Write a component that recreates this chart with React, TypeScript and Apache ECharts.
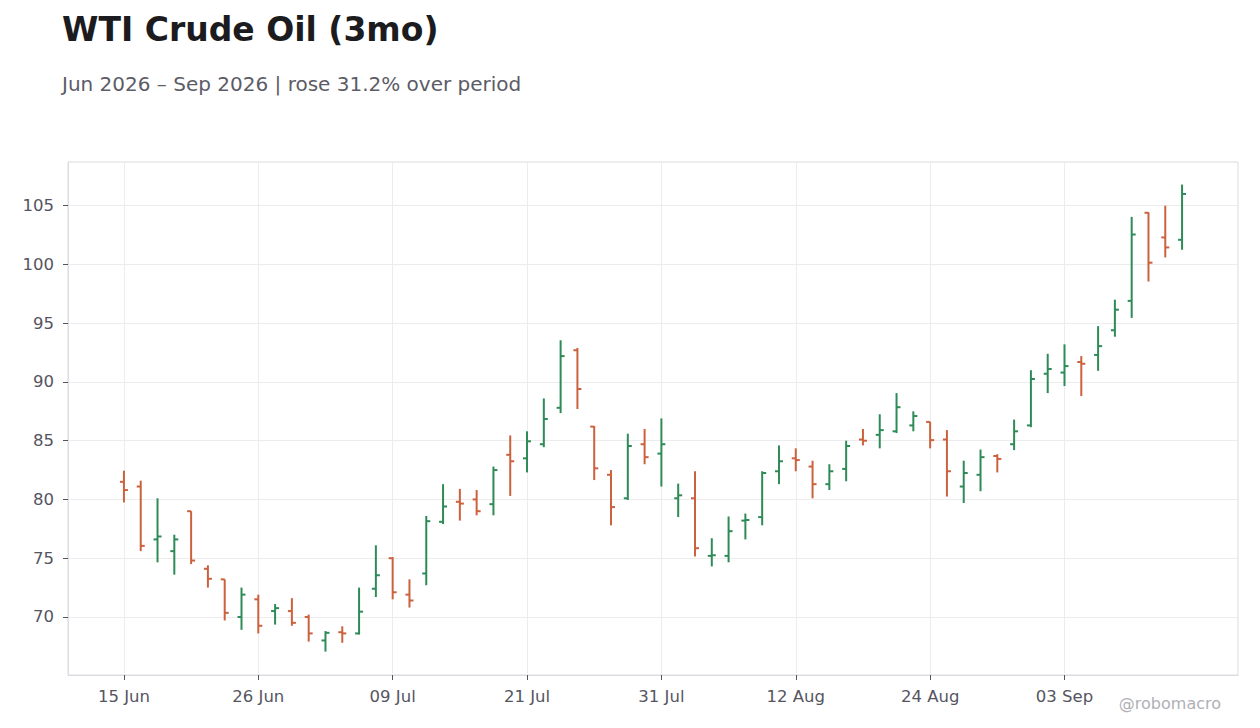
import * as echarts from "echarts"
import { useEffect, useRef } from "react"

// Trading days, Jun 15 – Sep 15 2026 (US holidays skipped)
const dates = [
  "15 Jun", "16 Jun", "17 Jun", "18 Jun", "22 Jun", "23 Jun", "24 Jun", "25 Jun", "26 Jun", "29 Jun", "30 Jun",
  "01 Jul", "02 Jul", "06 Jul", "07 Jul", "08 Jul", "09 Jul", "10 Jul", "13 Jul", "14 Jul", "15 Jul", "16 Jul",
  "17 Jul", "20 Jul", "21 Jul", "22 Jul", "23 Jul", "24 Jul", "27 Jul", "28 Jul", "29 Jul", "30 Jul", "31 Jul",
  "03 Aug", "04 Aug", "05 Aug", "06 Aug", "07 Aug", "10 Aug", "11 Aug", "12 Aug", "13 Aug", "14 Aug", "17 Aug",
  "18 Aug", "19 Aug", "20 Aug", "21 Aug", "24 Aug", "25 Aug", "26 Aug", "27 Aug", "28 Aug", "31 Aug",
  "01 Sep", "02 Sep", "03 Sep", "04 Sep", "08 Sep", "09 Sep", "10 Sep", "11 Sep", "14 Sep", "15 Sep",
]

const opens = [
  81.5, 81.1, 76.6, 75.6, 79.0, 74.1, 73.2, 70.0, 71.5, 70.5, 70.5, 70.0, 68.0, 68.7, 68.6, 72.4,
  75.0, 71.9, 73.7, 78.1, 79.8, 80.0, 79.6, 83.8, 83.5, 84.7, 87.8, 92.7, 86.2, 82.1, 80.1, 84.7,
  83.9, 80.1, 80.1, 75.2, 75.2, 78.2, 78.5, 82.4, 83.5, 82.8, 81.3, 82.6, 85.1, 85.5, 85.8, 86.3,
  86.6, 85.1, 81.1, 82.1, 83.7, 84.7, 86.3, 90.7, 90.8, 91.7, 92.3, 94.4, 96.9, 104.4, 102.3, 102.1,
]
const highs = [
  82.45, 81.6, 80.1, 77.0, 79.0, 74.4, 73.2, 72.5, 71.9, 71.1, 71.6, 70.2, 68.8, 69.2, 72.5, 76.1,
  75.1, 73.2, 78.6, 81.3, 80.9, 80.8, 82.8, 85.45, 85.8, 88.6, 93.55, 92.9, 86.25, 82.5, 85.6, 86.0,
  86.9, 81.35, 82.4, 76.7, 78.55, 78.8, 82.4, 84.6, 84.35, 83.3, 83.0, 85.0, 86.0, 87.25, 89.05, 87.5,
  86.6, 85.9, 83.3, 84.25, 83.85, 86.8, 91.0, 92.4, 93.2, 92.2, 94.75, 97.0, 104.05, 104.45, 105.0, 106.8,
]
const lows = [
  79.75, 75.6, 74.65, 73.6, 74.5, 72.5, 69.7, 68.9, 68.6, 69.35, 69.25, 67.9, 67.05, 67.8, 68.5, 71.7,
  71.5, 70.8, 72.7, 77.9, 78.2, 78.65, 78.65, 80.3, 82.3, 84.45, 87.35, 87.7, 81.65, 77.8, 79.95, 83.0,
  81.1, 78.5, 75.15, 74.3, 74.65, 76.6, 77.8, 81.3, 82.4, 80.1, 80.8, 81.55, 84.6, 84.35, 85.65, 85.8,
  84.35, 80.25, 79.7, 80.7, 82.3, 84.2, 86.15, 89.05, 89.65, 88.8, 90.95, 93.85, 95.45, 98.55, 100.6, 101.25,
]
const closes = [
  80.8, 76.05, 76.85, 76.6, 74.8, 73.25, 70.35, 71.9, 69.25, 70.75, 69.5, 68.6, 68.65, 68.6, 70.45, 73.55,
  72.1, 71.4, 78.15, 79.4, 79.65, 79.0, 82.5, 83.25, 84.95, 86.85, 92.2, 89.4, 82.65, 79.35, 84.55, 83.6,
  84.7, 80.35, 75.85, 75.25, 77.3, 78.25, 82.25, 83.25, 83.35, 81.3, 82.4, 84.55, 85.0, 85.9, 87.85, 87.1,
  85.05, 82.4, 82.25, 83.6, 83.45, 85.8, 90.25, 91.1, 91.35, 91.55, 93.05, 96.15, 102.55, 100.15, 101.45, 106.0,
]

const xTicks = [0, 8, 16, 24, 32, 40, 48, 56]
const yTicks = [70, 75, 80, 85, 90, 95, 100, 105]

const UP = "#2e8b57"
const DOWN = "#cc613d"
const FONT = "DejaVu Sans"
const AXIS_TEXT = "#55555f"
const BORDER = "#dcdce0"

export default function App() {
  const ref = useRef<HTMLDivElement>(null)

  useEffect(() => {
    if (!ref.current) return
    const chart = echarts.init(ref.current, null, { renderer: "svg" })

    const data = dates.map((_, i) => [i, opens[i], highs[i], lows[i], closes[i]])

    chart.setOption({
      animation: false,
      backgroundColor: "#ffffff",
      textStyle: { fontFamily: FONT },
      title: [
        {
          text: "WTI Crude Oil (3mo)",
          left: 62,
          top: 13,
          padding: 0,
          textStyle: { fontFamily: FONT, fontSize: 33, fontWeight: "bold", color: "#1b1b20" },
        },
        {
          text: "Jun 2026 – Sep 2026 | rose 31.2% over period",
          left: 62,
          top: 74,
          padding: 0,
          textStyle: { fontFamily: FONT, fontSize: 20, fontWeight: "normal", color: "#5c5c66" },
        },
        {
          text: "@robomacro",
          right: 39,
          top: 695,
          padding: 0,
          textStyle: { fontFamily: FONT, fontSize: 16, fontWeight: "normal", color: "#b0b0b5" },
        },
      ],
      grid: {
        left: 68,
        right: 22,
        top: 162,
        bottom: 53,
        show: true,
        borderColor: BORDER,
        borderWidth: 1,
        containLabel: false,
      },
      xAxis: {
        type: "value",
        min: -3.33,
        max: 66.33,
        axisLine: { show: true, onZero: false, lineStyle: { color: BORDER, width: 1 } },
        axisTick: { show: true, customValues: xTicks, length: 5, lineStyle: { color: AXIS_TEXT, width: 1 } },
        axisLabel: {
          customValues: xTicks,
          formatter: (v: number) => dates[Math.round(v)] ?? "",
          color: AXIS_TEXT,
          fontSize: 16.5,
          margin: 13,
        },
        splitLine: { show: true, lineStyle: { color: "#ececef", width: 1 } },
      },
      yAxis: {
        type: "value",
        min: 65.06,
        max: 108.72,
        axisLine: { show: true, onZero: false, lineStyle: { color: BORDER, width: 1 } },
        axisTick: { show: true, customValues: yTicks, length: 5, lineStyle: { color: AXIS_TEXT, width: 1 } },
        axisLabel: { customValues: yTicks, color: AXIS_TEXT, fontSize: 16.5, margin: 14 },
        splitLine: { show: true, lineStyle: { color: "#ececef", width: 1 } },
      },
      series: [
        {
          type: "custom",
          data,
          encode: { x: 0, y: [1, 2, 3, 4] },
          renderItem: (_params: unknown, api: any) => {
            const x = api.value(0)
            const o = api.value(1)
            const h = api.value(2)
            const l = api.value(3)
            const c = api.value(4)
            const color = c >= o ? UP : DOWN
            const pHigh = api.coord([x, h])
            const pLow = api.coord([x, l])
            const pOpen = api.coord([x, o])
            const pClose = api.coord([x, c])
            const style = { stroke: color, lineWidth: 2 }
            return {
              type: "group",
              children: [
                { type: "line", shape: { x1: pHigh[0], y1: pHigh[1], x2: pLow[0], y2: pLow[1] }, style },
                { type: "line", shape: { x1: pOpen[0] - 4, y1: pOpen[1], x2: pOpen[0], y2: pOpen[1] }, style },
                { type: "line", shape: { x1: pClose[0], y1: pClose[1], x2: pClose[0] + 4, y2: pClose[1] }, style },
              ],
            }
          },
        },
      ],
    })

    return () => chart.dispose()
  }, [])

  return <div ref={ref} style={{ position: "fixed", left: 0, top: 0, width: 1260, height: 728 }} />
}
